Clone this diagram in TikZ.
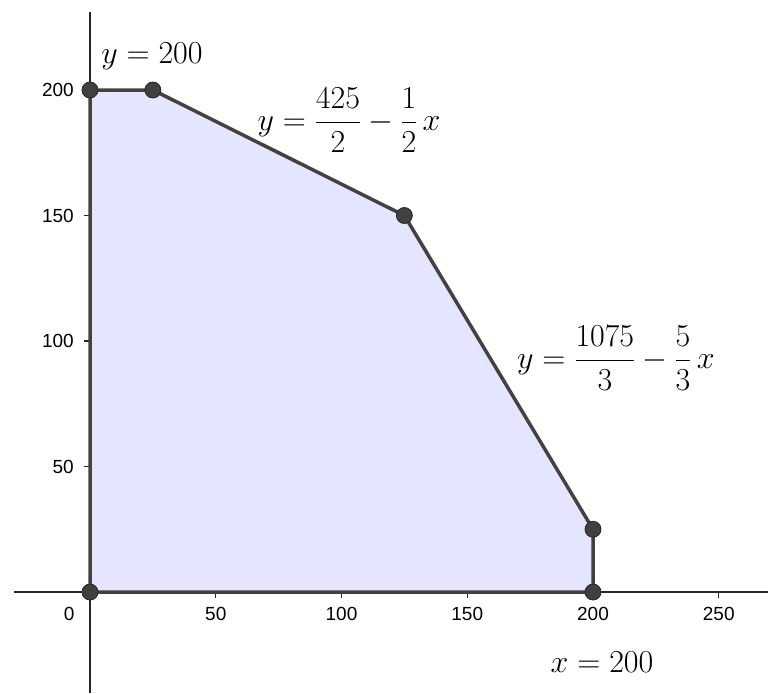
\RequirePackage{fix-cm}
\documentclass[tikz,border=0pt]{standalone}
\usepackage{amsmath}
\usepackage{fontspec}
\newfontfamily\ticksfont{Liberation Sans}
\usepackage{xcolor}
\usepackage{tikz}
\usetikzlibrary{positioning}

\definecolor{regionblue}{RGB}{229,229,255}
\definecolor{edgegray}{RGB}{66,66,66}
\definecolor{ptgray}{RGB}{64,64,64}

\begin{document}
\begin{tikzpicture}[
  x=2.515pt, y=2.51pt,
  axisline/.style={line width=1.4pt, black!85},
  tickmark/.style={line width=1.2pt, black!85},
  ticklabel/.style={font=\ticksfont\fontsize{19}{22}\selectfont, inner sep=0pt},
  edge/.style={line width=3.5pt, draw=edgegray, line join=round},
  vertex/.style={circle, fill=ptgray, draw=black!85, line width=0.8pt, minimum size=16pt, inner sep=0pt},
  eqlabel/.style={font=\fontsize{32}{38}\selectfont, inner sep=0pt}
]
  \useasboundingbox (-35.785,-40.24) rectangle (269.58,235.86);

  % axes
  \coordinate (xmin) at (-30.2,0);
  \coordinate (xmax) at (269.58,0);
  \coordinate (ymin) at (0,-40.24);
  \coordinate (ymax) at (0,231.1);
  \draw[axisline] (xmin) -- (xmax);
  \draw[axisline] (ymin) -- (ymax);

  % ticks and their labels
  \foreach \t in {50,100,...,250} {
    \draw[tickmark] (\t,0) -- ++(0,-2.2);
    \node[ticklabel] (xl\t) at (\t,-8.8) {\t};
  }
  \node[ticklabel] (xl0) at (-8.3,-8.8) {0};
  \foreach \t in {50,100,...,200} {
    \draw[tickmark] (0,\t) -- ++(-2.4,0);
    \node[ticklabel, anchor=east] (yl\t) at (-6.4,\t) {\t};
  }

  % feasible region
  \coordinate (O) at (0,0);
  \coordinate (A) at (0,200);
  \coordinate (B) at (25,200);
  \coordinate (C) at (125,150);
  \coordinate (D) at (200,25);
  \coordinate (E) at (200,0);
  \fill[regionblue] (O) -- (A) -- (B) -- (C) -- (D) -- (E) -- cycle;
  \draw[edge] (O) -- (A) -- (B) -- (C) -- (D) -- (E) -- cycle;
  \foreach \p in {O,A,B,C,D,E}
    \node[vertex] (pt\p) at (\p) {};

  % equations of the boundary lines
  \node[eqlabel] (labtop) at (24.65,213.4) {$y = 200$};
  \node[eqlabel] (labBC) at (103,188) {$y = \dfrac{425}{2} - \dfrac{1}{2}\,x$};
  \node[eqlabel] (labCD) at (209.1,93.2) {$y = \dfrac{1075}{3} - \dfrac{5}{3}\,x$};
  \node[eqlabel] (labright) at (203.6,-27.9) {$x = 200$};
\end{tikzpicture}
\end{document}
